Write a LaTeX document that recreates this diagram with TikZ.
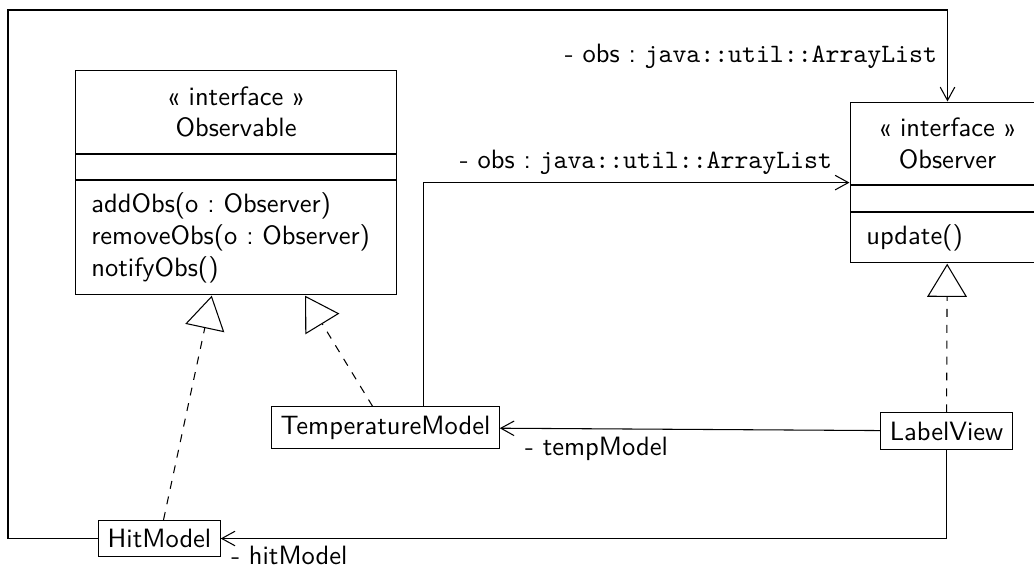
\documentclass[tikz,border=0pt]{standalone}
\usepackage{fontspec}
\usepackage{tikz}
\usetikzlibrary{arrows.meta,positioning,fit}
\frenchspacing
\tikzset{
    cls/.style={rectangle, draw, thin, font=\sffamily},
    clshead/.style={rectangle, draw, thin, minimum width=#1, inner sep=0pt,
                    align=center, font=\sffamily},
    clsattr/.style={rectangle, draw, thin, minimum width=#1, inner sep=0pt},
    clsops/.style={rectangle, draw, thin, inner xsep=0.21cm, inner ysep=0pt,
                   align=left, font=\sffamily},
    impl/.style={dashed, -{Triangle[open, length=12.5pt, width=15pt]}},
    assoc/.style={-{Straight Barb[length=5pt, width=5.5pt]}},
    role/.style={font=\sffamily, inner sep=0pt},
}

\begin{document}
\begin{tikzpicture}[node distance=0cm]
    \useasboundingbox (0,0) rectangle (13.711,7.545);

    % interfaces
    \node[clshead=4.257cm, minimum height=1.10cm, anchor=north west] (obstitle) at (0.995,6.617)
        {« interface »\\Observable};
    \node[clsattr=4.257cm, minimum height=0.332cm, below=of obstitle] (obsattr) {};
    \node[clsops, text width=3.837cm, minimum height=1.512cm, below=of obsattr] (obsops)
        {addObs(o : Observer)\\removeObs(o : Observer)\\notifyObs()};
    \node[fit=(obstitle)(obsops), inner sep=0pt] (observable) {};

    \node[clshead=2.572cm, minimum height=1.087cm, anchor=north west] (obrtitle) at (11.271,6.192)
        {« interface »\\Observer};
    \node[clsattr=2.572cm, minimum height=0.345cm, below=of obrtitle] (obrattr) {};
    \node[clsops, text width=2.152cm, minimum height=0.663cm, below=of obrattr] (obrops)
        {update()};
    \node[fit=(obrtitle)(obrops), inner sep=0pt] (observer) {};

    % classes
    \node[cls] (tempmodel) at (5.112,1.876) {TemperatureModel};
    \node[cls] (labelview) at (12.551,1.830) {LabelView};
    \node[cls] (hitmodel)  at (2.115,0.404) {HitModel};
    \coordinate (loopnw) at (0.106,7.412);

    % realizations
    \draw[impl] (hitmodel)  -- (observable);
    \draw[impl] (tempmodel) -- (observable);
    \draw[impl] (labelview) -- (observer);

    % associations
    \draw[assoc] (labelview) -- (tempmodel);
    \draw[assoc] ([xshift=0.5cm]tempmodel.north) |- (observer);
    \draw[assoc] (hitmodel.west) -| (loopnw) -| (observer.north);
    \draw[assoc] (labelview) |- (hitmodel);

    % roles
    \node[role, anchor=base east] (obsrole1) at ([xshift=-0.133cm, yshift=0.517cm]observer.north)
        {- obs : \texttt{java::util::ArrayList}};
    \node[role, anchor=base east] (obsrole2) at ([xshift=-0.225cm, yshift=0.186cm]observer.west)
        {- obs : \texttt{java::util::ArrayList}};
    \node[role, anchor=base west] (temprole) at ([xshift=0.33cm, yshift=-0.365cm]tempmodel.east)
        {- tempModel};
    \node[role, anchor=base west] (hitrole) at ([xshift=0.133cm, yshift=-0.351cm]hitmodel.east)
        {- hitModel};
\end{tikzpicture}
\end{document}
